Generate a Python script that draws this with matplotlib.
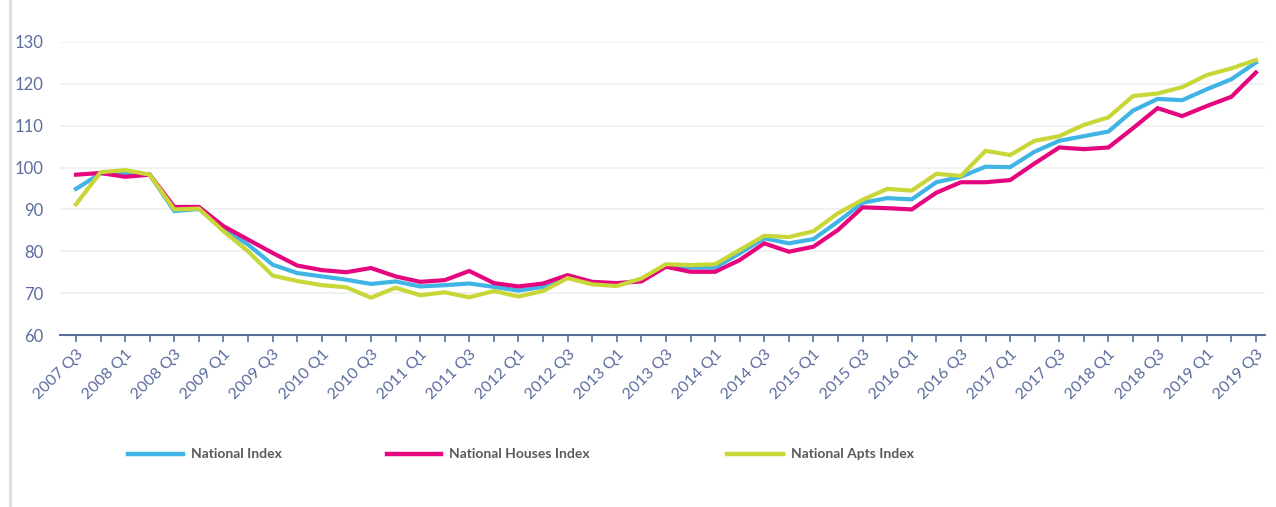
"""National residential property price index, 2007 Q3 - 2019 Q3."""

import matplotlib

matplotlib.use("Agg")
import matplotlib.pyplot as plt
from matplotlib.lines import Line2D

plt.rcParams["font.family"] = ["Lato", "DejaVu Sans"]

# quarters 2007 Q3 .. 2019 Q3
quarters = [f"{y} Q{q}" for y in range(2007, 2020) for q in range(1, 5)][2:-1]

national = [
    94.9, 98.6, 98.6, 98.3, 89.6, 90.1, 85.4, 81.6, 76.8, 74.8,
    74.0, 73.2, 72.2, 72.8, 71.6, 71.9, 72.3, 71.5, 70.6, 71.5,
    74.0, 72.4, 72.1, 73.2, 76.7, 76.1, 76.1, 79.5, 83.1, 81.9,
    82.9, 87.1, 91.6, 92.7, 92.4, 96.5, 97.8, 100.2, 100.1, 103.8,
    106.4, 107.5, 108.6, 113.6, 116.4, 116.1, 118.7, 121.1, 125.1,
]
houses = [
    98.3, 98.7, 97.8, 98.3, 90.6, 90.6, 86.0, 82.8, 79.6, 76.6,
    75.5, 75.0, 76.0, 74.0, 72.7, 73.1, 75.3, 72.4, 71.6, 72.3,
    74.3, 72.7, 72.4, 72.8, 76.3, 75.1, 75.1, 77.9, 81.9, 79.9,
    81.1, 85.1, 90.5, 90.3, 90.0, 94.0, 96.5, 96.5, 97.0, 101.0,
    104.8, 104.4, 104.8, 109.4, 114.2, 112.3, 114.7, 116.9, 122.7,
]
apts = [
    91.2, 98.9, 99.4, 98.3, 90.0, 90.2, 84.8, 80.0, 74.2, 72.9,
    71.9, 71.4, 68.9, 71.3, 69.5, 70.2, 69.0, 70.5, 69.2, 70.5,
    73.6, 72.1, 71.7, 73.5, 76.9, 76.7, 76.9, 80.3, 83.7, 83.4,
    84.8, 89.1, 92.3, 94.9, 94.5, 98.5, 98.0, 104.0, 103.0, 106.4,
    107.5, 110.2, 112.0, 117.1, 117.7, 119.2, 122.1, 123.7, 125.7,
]

series_names = ["National Index", "National Houses Index", "National Apts Index"]
colors = ["#3fb4e5", "#e5067f", "#c9d638"]

TEXT_BLUE = "#5b6c9e"
AXIS_BLUE = "#5a6f9c"

fig = plt.figure(figsize=(12.76, 5.07), dpi=100)
ax = fig.add_axes([60 / 1276, 1 - 335 / 507, 1205 / 1276, 293 / 507])

x = list(range(len(quarters)))
for values, color in zip([national, houses, apts], colors):
    ax.plot(x, values, color=color, lw=3, solid_joinstyle="miter", clip_on=False)

ax.set_ylim(60, 130)
ax.set_yticks(range(60, 131, 10))
ax.set_xlim(-0.65, 48.37)
ax.set_xticks(x[::2])
ax.set_xticklabels(quarters[::2], rotation=45, ha="right", rotation_mode="anchor")
ax.set_xticks(x, minor=True)

ax.grid(axis="y", color="#efefef", lw=1.2)
ax.set_axisbelow(True)
for side in ["top", "right", "left"]:
    ax.spines[side].set_visible(False)
ax.spines["bottom"].set_color(AXIS_BLUE)
ax.spines["bottom"].set_linewidth(1.5)

ax.tick_params(axis="y", length=0, pad=12, labelsize=12, labelcolor=TEXT_BLUE)
ax.tick_params(axis="x", which="both", length=5, width=1.2, color=AXIS_BLUE,
               labelsize=11.5, labelcolor=TEXT_BLUE, pad=4)

# legend drawn by hand to keep the uneven spacing of the original
leg_y = 1 - 454 / 507
handles = [(128, 183, 191), (387, 441, 449), (727, 783, 791)]
for (x0, x1, tx), color, name in zip(handles, colors, series_names):
    fig.add_artist(Line2D([x0 / 1276, x1 / 1276], [leg_y, leg_y], color=color, lw=3.2))
    fig.text(tx / 1276, leg_y, name, fontsize=10, fontweight="bold", color="#5a5a5a",
             va="center", ha="left")

# thin frame line on the left edge
fig.add_artist(Line2D([10 / 1276, 10 / 1276], [0, 1], color="#e2dcd6", lw=2))

plt.savefig("out.png", dpi=100)
plt.close()
